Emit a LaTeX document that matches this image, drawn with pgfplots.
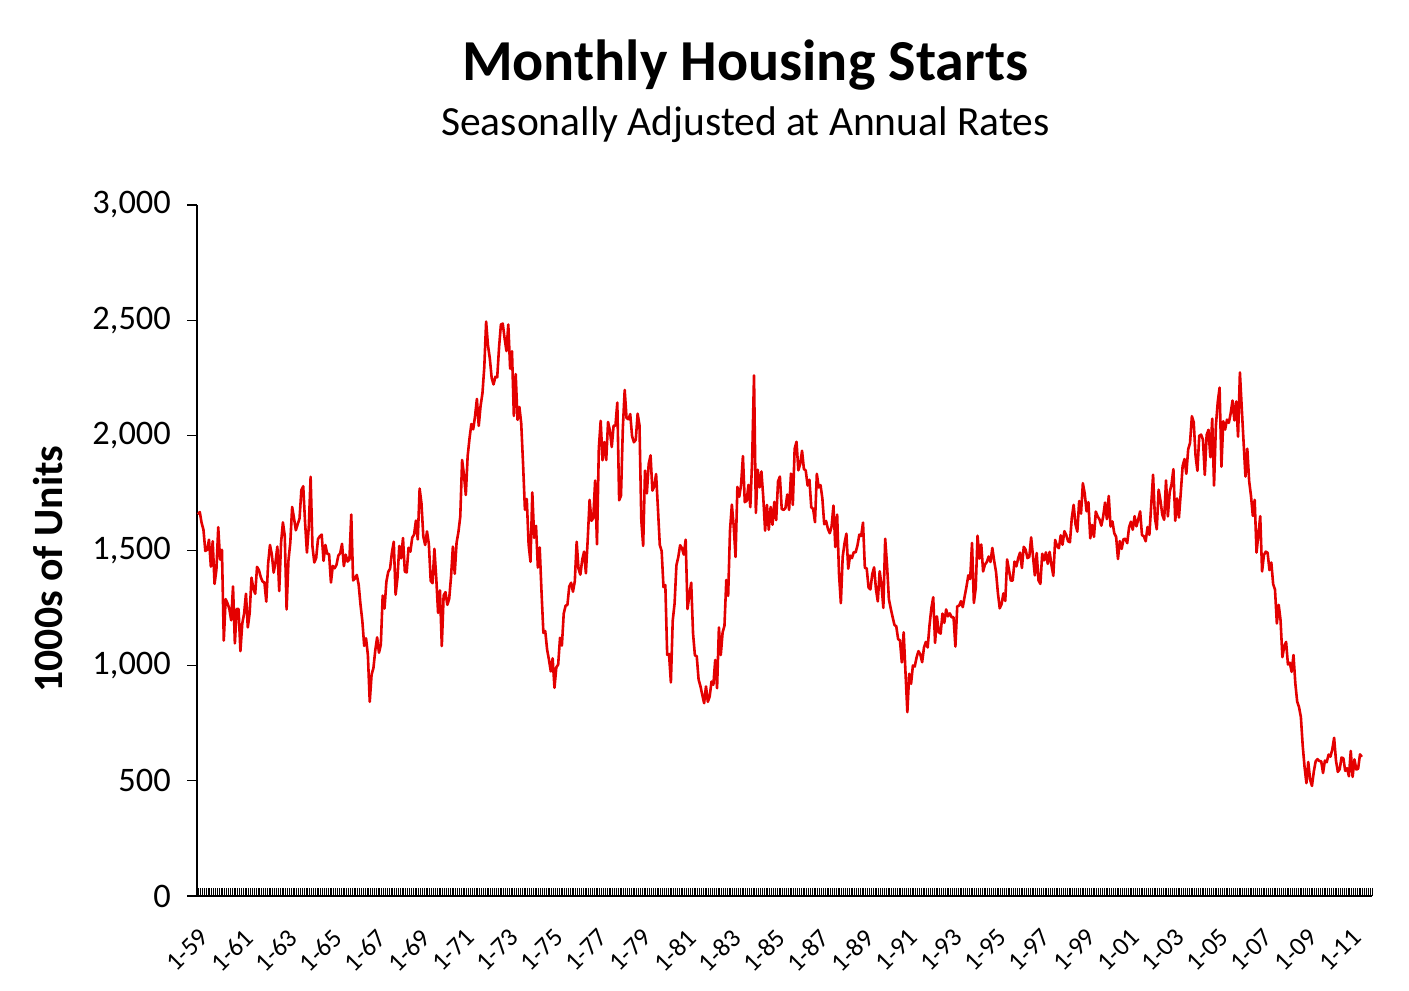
\documentclass[border=0pt]{standalone}
\usepackage{fontspec}
\setmainfont{Carlito}
\usepackage{pgfplots}
\pgfplotsset{compat=1.18}
\usepackage{pgfplotstable}
\definecolor{startsred}{RGB}{228,0,0}

% monthly housing starts, thousands of units, SAAR, Jan 1959 - Jul 2011
\pgfplotstableread[row sep=\\, header=false]{
1657\\1667\\1620\\1590\\1498\\1503\\1547\\1430\\1540\\1355\\1416\\1601\\
1460\\1503\\1109\\1289\\1271\\1247\\1197\\1344\\1097\\1246\\1246\\1063\\
1183\\1226\\1312\\1166\\1228\\1382\\1335\\1312\\1429\\1415\\1385\\1365\\
1361\\1278\\1443\\1524\\1483\\1404\\1450\\1517\\1324\\1533\\1622\\1564\\
1244\\1456\\1534\\1689\\1641\\1588\\1614\\1639\\1763\\1779\\1622\\1491\\
1603\\1820\\1517\\1448\\1467\\1550\\1562\\1569\\1455\\1524\\1486\\1484\\
1361\\1433\\1423\\1438\\1478\\1488\\1529\\1432\\1482\\1452\\1460\\1656\\
1370\\1378\\1394\\1352\\1265\\1194\\1086\\1119\\1046\\843\\961\\990\\
1067\\1123\\1056\\1091\\1304\\1248\\1364\\1407\\1421\\1491\\1538\\1308\\
1380\\1520\\1466\\1554\\1408\\1405\\1512\\1495\\1556\\1569\\1630\\1548\\
1769\\1705\\1561\\1524\\1583\\1528\\1368\\1358\\1507\\1381\\1229\\1327\\
1085\\1305\\1319\\1264\\1290\\1385\\1517\\1399\\1534\\1580\\1647\\1893\\
1828\\1741\\1910\\1986\\2049\\2026\\2083\\2158\\2041\\2128\\2182\\2295\\
2494\\2390\\2334\\2249\\2221\\2254\\2252\\2382\\2481\\2485\\2421\\2366\\
2481\\2289\\2365\\2084\\2266\\2067\\2123\\2051\\1874\\1677\\1724\\1526\\
1451\\1752\\1555\\1607\\1426\\1513\\1316\\1142\\1150\\1070\\1026\\975\\
1032\\904\\993\\1005\\1121\\1087\\1226\\1260\\1264\\1344\\1360\\1321\\
1367\\1538\\1421\\1395\\1459\\1495\\1401\\1550\\1720\\1629\\1641\\1804\\
1527\\1943\\2063\\1892\\1971\\1893\\2058\\2020\\1949\\2042\\2042\\2142\\
1718\\1738\\2032\\2197\\2075\\2070\\2092\\1996\\1970\\1981\\2094\\2044\\
1630\\1520\\1847\\1748\\1876\\1913\\1760\\1778\\1832\\1681\\1524\\1498\\
1341\\1350\\1047\\1051\\927\\1196\\1269\\1436\\1471\\1523\\1510\\1482\\
1547\\1246\\1306\\1360\\1140\\1045\\1041\\940\\911\\873\\837\\910\\
843\\866\\931\\917\\1025\\902\\1166\\1046\\1144\\1173\\1372\\1303\\
1586\\1699\\1606\\1472\\1776\\1733\\1785\\1910\\1710\\1715\\1785\\1688\\
1897\\2260\\1663\\1851\\1774\\1843\\1732\\1586\\1698\\1590\\1689\\1612\\
1711\\1632\\1800\\1821\\1680\\1676\\1684\\1743\\1676\\1834\\1698\\1942\\
1972\\1848\\1876\\1933\\1854\\1847\\1782\\1807\\1687\\1681\\1623\\1833\\
1774\\1784\\1726\\1614\\1628\\1594\\1575\\1605\\1695\\1515\\1656\\1400\\
1271\\1473\\1532\\1573\\1421\\1478\\1467\\1493\\1492\\1522\\1569\\1563\\
1621\\1425\\1422\\1339\\1331\\1397\\1427\\1332\\1279\\1410\\1351\\1251\\
1551\\1437\\1289\\1248\\1212\\1177\\1171\\1115\\1110\\1014\\1145\\969\\
798\\965\\921\\1001\\996\\1036\\1063\\1049\\1015\\1079\\1103\\1079\\
1176\\1250\\1297\\1099\\1214\\1145\\1139\\1226\\1186\\1244\\1214\\1227\\
1210\\1210\\1083\\1258\\1260\\1280\\1254\\1300\\1343\\1392\\1376\\1533\\
1272\\1337\\1564\\1465\\1526\\1409\\1439\\1450\\1474\\1450\\1511\\1455\\
1407\\1316\\1249\\1267\\1314\\1281\\1461\\1416\\1369\\1369\\1452\\1431\\
1467\\1491\\1424\\1516\\1504\\1467\\1472\\1557\\1475\\1392\\1489\\1370\\
1355\\1486\\1457\\1492\\1442\\1494\\1437\\1390\\1546\\1520\\1510\\1566\\
1525\\1584\\1567\\1540\\1536\\1641\\1698\\1614\\1582\\1715\\1660\\1792\\
1748\\1670\\1710\\1553\\1611\\1559\\1669\\1648\\1635\\1608\\1648\\1708\\
1636\\1737\\1604\\1626\\1575\\1559\\1463\\1541\\1507\\1549\\1551\\1532\\
1600\\1625\\1590\\1649\\1605\\1636\\1670\\1567\\1562\\1540\\1602\\1568\\
1698\\1829\\1642\\1592\\1764\\1717\\1655\\1633\\1804\\1648\\1753\\1788\\
1853\\1629\\1726\\1643\\1751\\1867\\1897\\1833\\1939\\1967\\2083\\2057\\
1911\\1846\\1998\\2003\\1981\\1828\\2002\\2024\\1905\\2072\\1782\\2042\\
2144\\2207\\1864\\2061\\2025\\2068\\2054\\2095\\2151\\2065\\2147\\1994\\
2273\\2119\\1969\\1821\\1942\\1802\\1737\\1650\\1720\\1491\\1570\\1649\\
1409\\1480\\1495\\1490\\1415\\1448\\1354\\1330\\1183\\1264\\1197\\1037\\
1084\\1103\\1005\\1013\\973\\1046\\923\\844\\820\\777\\652\\560\\
490\\582\\505\\478\\540\\585\\594\\586\\585\\534\\588\\581\\
614\\605\\636\\687\\588\\539\\550\\601\\598\\543\\555\\520\\
630\\517\\593\\549\\553\\615\\604\\
}\starts

\begin{document}
\begin{tikzpicture}
\useasboundingbox (0,0) rectangle (1409bp,991bp);

% titles
\node[anchor=base, font=\fontsize{58bp}{64bp}\selectfont\bfseries]
  at (745bp,910bp) {Monthly Housing Starts};
\node[anchor=base, font=\fontsize{41.5bp}{46bp}\selectfont]
  at (745.5bp,855bp) {Seasonally Adjusted at Annual Rates};
\node[rotate=90, font=\fontsize{41.7bp}{46bp}\selectfont\bfseries]
  at (48bp,422bp) {1000s of Units};

\begin{axis}[
    at={(197bp,95bp)}, anchor=south west,
    scale only axis, width=1175bp, height=691bp,
    xmin=-0.5, xmax=635.5,
    ymin=0, ymax=3000,
    axis x line*=bottom, axis y line*=left,
    axis line style={-, line width=1.3bp, black},
    ytick={0,500,...,3000},
    yticklabels={0,500,{1,000},{1,500},{2,000},{2,500},{3,000}},
    xtick={0,24,...,624},
    xticklabels={1-59,1-61,1-63,1-65,1-67,1-69,1-71,1-73,1-75,1-77,1-79,
                 1-81,1-83,1-85,1-87,1-89,1-91,1-93,1-95,1-97,1-99,
                 1-01,1-03,1-05,1-07,1-09,1-11},
    minor xtick={-0.5,0.5,...,635.5},
    xtick align=inside, ytick align=outside,
    major tick length=10bp, minor tick length=8bp,
    major x tick style={draw=none},
    minor x tick style={line width=0.9bp, black},
    major y tick style={line width=1.3bp, black},
    yticklabel style={font=\fontsize{34.4bp}{38bp}\selectfont,
                      anchor=east, inner sep=0pt},
    yticklabel shift=16bp,
    xticklabel style={font=\fontsize{26bp}{30bp}\selectfont,
                      rotate=45, anchor=north east, inner sep=0pt},
    xticklabel shift=31bp,
    clip=false,
]
\addplot[startsred, line width=2.6bp, line join=round, mark=none]
  table[x expr=\coordindex, y index=0] {\starts};
\end{axis}
\end{tikzpicture}
\end{document}
